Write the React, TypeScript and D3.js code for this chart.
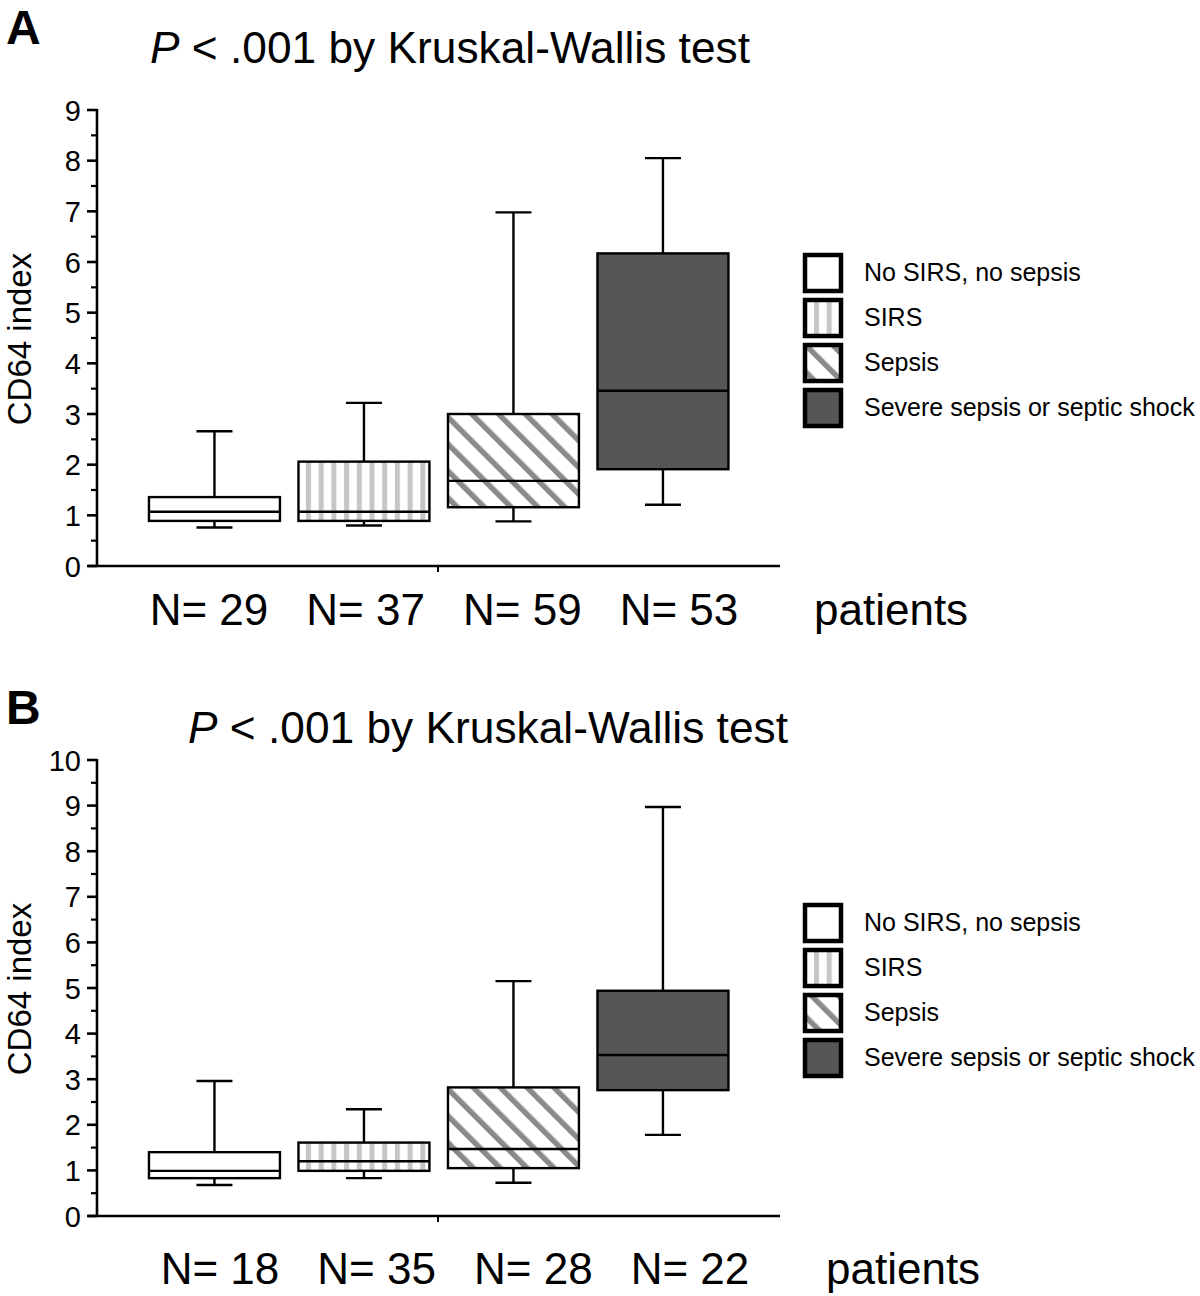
import React from "react";
import * as d3 from "d3";

// ---------- data ----------
const categories = ["No SIRS, no sepsis", "SIRS", "Sepsis", "Severe sepsis or septic shock"];
const fillIds = ["fill-none", "fill-vert", "fill-diag", "fill-dark"];

// Panel A
const aWhiskerLow = [0.76, 0.8, 0.88, 1.21];
const aQ1 = [0.89, 0.89, 1.16, 1.91];
const aMedian = [1.07, 1.07, 1.68, 3.46];
const aQ3 = [1.36, 2.06, 3.0, 6.17];
const aWhiskerHigh = [2.66, 3.22, 6.98, 8.05];
const aN = [29, 37, 59, 53];
const aTicks = [0, 1, 2, 3, 4, 5, 6, 7, 8, 9];

// Panel B
const bWhiskerLow = [0.68, 0.83, 0.73, 1.78];
const bQ1 = [0.83, 0.99, 1.05, 2.76];
const bMedian = [0.99, 1.2, 1.47, 3.53];
const bQ3 = [1.4, 1.61, 2.82, 4.94];
const bWhiskerHigh = [2.96, 2.34, 5.15, 8.97];
const bN = [18, 35, 28, 22];
const bTicks = [0, 1, 2, 3, 4, 5, 6, 7, 8, 9, 10];

const titleText = " < .001 by Kruskal-Wallis test";
const yLabel = "CD64 index";
const FONT = "'Liberation Sans', Arial, Helvetica, sans-serif";

type PanelProps = {
  letter: string;
  letterY: number;
  titleX: number;
  titleY: number;
  yMax: number;
  yBottom: number;
  yTop: number;
  ticks: number[];
  low: number[];
  q1: number[];
  med: number[];
  q3: number[];
  high: number[];
  ns: number[];
  nRange: [number, number];
  nY: number;
  patientsX: number;
  legendTop: number;
};

function Panel(p: PanelProps) {
  const y = d3.scaleLinear().domain([0, p.yMax]).range([p.yBottom, p.yTop]);
  const x = d3
    .scaleBand<string>()
    .domain(categories)
    .range([139.7, 737.7])
    .paddingInner(0.124)
    .paddingOuter(0.062);
  const nx = d3.scalePoint<string>().domain(categories).range(p.nRange);
  const bw = x.bandwidth();
  const capW = 36;
  const axisX = 97;
  const minorTicks = d3.range(0, p.yMax, 0.5).filter((v) => v % 1 !== 0);
  const legendStep = 45;

  return (
    <g>
      <text x={6} y={p.letterY} fontFamily={FONT} fontWeight="bold" fontSize={48}>
        {p.letter}
      </text>
      <text
        x={p.titleX}
        y={p.titleY}
        fontFamily={FONT}
        fontSize={44}
        textLength={600}
        lengthAdjust="spacingAndGlyphs"
      >
        <tspan fontStyle="italic">P</tspan>
        {titleText}
      </text>

      {/* y label */}
      <text
        transform={`translate(31,${(p.yBottom + p.yTop) / 2 + 1}) rotate(-90)`}
        textAnchor="middle"
        fontFamily={FONT}
        fontSize={33}
      >
        {yLabel}
      </text>

      {/* boxes */}
      {categories.map((c, i) => {
        const cx = (x(c) as number) + bw / 2;
        return (
          <g key={c} stroke="#000" strokeWidth={2.4}>
            <line x1={cx} x2={cx} y1={y(p.low[i])} y2={y(p.q1[i])} />
            <line x1={cx} x2={cx} y1={y(p.q3[i])} y2={y(p.high[i])} />
            <line x1={cx - capW / 2} x2={cx + capW / 2} y1={y(p.low[i])} y2={y(p.low[i])} />
            <line x1={cx - capW / 2} x2={cx + capW / 2} y1={y(p.high[i])} y2={y(p.high[i])} />
            <rect
              x={x(c)}
              y={y(p.q3[i])}
              width={bw}
              height={y(p.q1[i]) - y(p.q3[i])}
              fill={`url(#${fillIds[i]})`}
            />
            <line x1={x(c)} x2={(x(c) as number) + bw} y1={y(p.med[i])} y2={y(p.med[i])} />
          </g>
        );
      })}

      {/* axes */}
      <g stroke="#000" strokeWidth={2.6}>
        <line x1={axisX} x2={axisX} y1={p.yTop - 1} y2={p.yBottom} />
        <line x1={88} x2={780} y1={p.yBottom} y2={p.yBottom} />
        <line x1={438} x2={438} y1={p.yBottom} y2={p.yBottom + 6} strokeWidth={2} />
        {p.ticks.map((t) => (
          <line key={t} x1={87} x2={axisX} y1={y(t)} y2={y(t)} />
        ))}
        {minorTicks.map((t) => (
          <line key={t} x1={91} x2={axisX} y1={y(t)} y2={y(t)} strokeWidth={2.2} />
        ))}
      </g>
      {p.ticks.map((t) => (
        <text
          key={t}
          x={81}
          y={y(t) + 10.5}
          textAnchor="end"
          fontFamily={FONT}
          fontSize={29}
        >
          {t}
        </text>
      ))}

      {/* N labels */}
      {categories.map((c, i) => (
        <text
          key={c}
          x={nx(c)}
          y={p.nY}
          textAnchor="middle"
          fontFamily={FONT}
          fontSize={44}
        >
          {`N= ${p.ns[i]}`}
        </text>
      ))}
      <text x={p.patientsX} y={p.nY} fontFamily={FONT} fontSize={44}>
        patients
      </text>

      {/* legend */}
      {categories.map((c, i) => (
        <g key={c}>
          <rect
            x={805}
            y={p.legendTop + i * legendStep + 2}
            width={36}
            height={36}
            fill={`url(#${fillIds[i]})`}
            stroke="#000"
            strokeWidth={4.5}
          />
          <text
            x={864}
            y={p.legendTop + i * legendStep + 28}
            fontFamily={FONT}
            fontSize={25}
          >
            {c}
          </text>
        </g>
      ))}
    </g>
  );
}

export default function App() {
  return (
    <svg
      width={1200}
      height={1296}
      style={{ position: "absolute", left: 0, top: 0, background: "#fff" }}
    >
      <defs>
        <pattern id="fill-none" width={10} height={10} patternUnits="userSpaceOnUse">
          <rect width={10} height={10} fill="#fff" />
        </pattern>
        <pattern id="fill-vert" width={12.7} height={10} patternUnits="userSpaceOnUse" x={306}>
          <rect width={12.7} height={10} fill="#fff" />
          <rect x={0} width={5} height={10} fill="#c6c6c6" />
        </pattern>
        <pattern
          id="fill-diag"
          width={19}
          height={10}
          patternUnits="userSpaceOnUse"
          patternTransform="rotate(-45)"
        >
          <rect width={19} height={10} fill="#fff" />
          <rect x={0} width={5.5} height={10} fill="#8a8a8a" />
        </pattern>
        <pattern id="fill-dark" width={10} height={10} patternUnits="userSpaceOnUse">
          <rect width={10} height={10} fill="#565656" />
        </pattern>
      </defs>
      <rect width={1200} height={1296} fill="#fff" />
      <Panel
        letter="A"
        letterY={44}
        titleX={150}
        titleY={63}
        yMax={9}
        yBottom={566}
        yTop={110}
        ticks={aTicks}
        low={aWhiskerLow}
        q1={aQ1}
        med={aMedian}
        q3={aQ3}
        high={aWhiskerHigh}
        ns={aN}
        nRange={[209, 679]}
        nY={625}
        patientsX={814}
        legendTop={253}
      />
      <Panel
        letter="B"
        letterY={724}
        titleX={188}
        titleY={743}
        yMax={10}
        yBottom={1216}
        yTop={760}
        ticks={bTicks}
        low={bWhiskerLow}
        q1={bQ1}
        med={bMedian}
        q3={bQ3}
        high={bWhiskerHigh}
        ns={bN}
        nRange={[220, 690]}
        nY={1284}
        patientsX={826}
        legendTop={903}
      />
    </svg>
  );
}
